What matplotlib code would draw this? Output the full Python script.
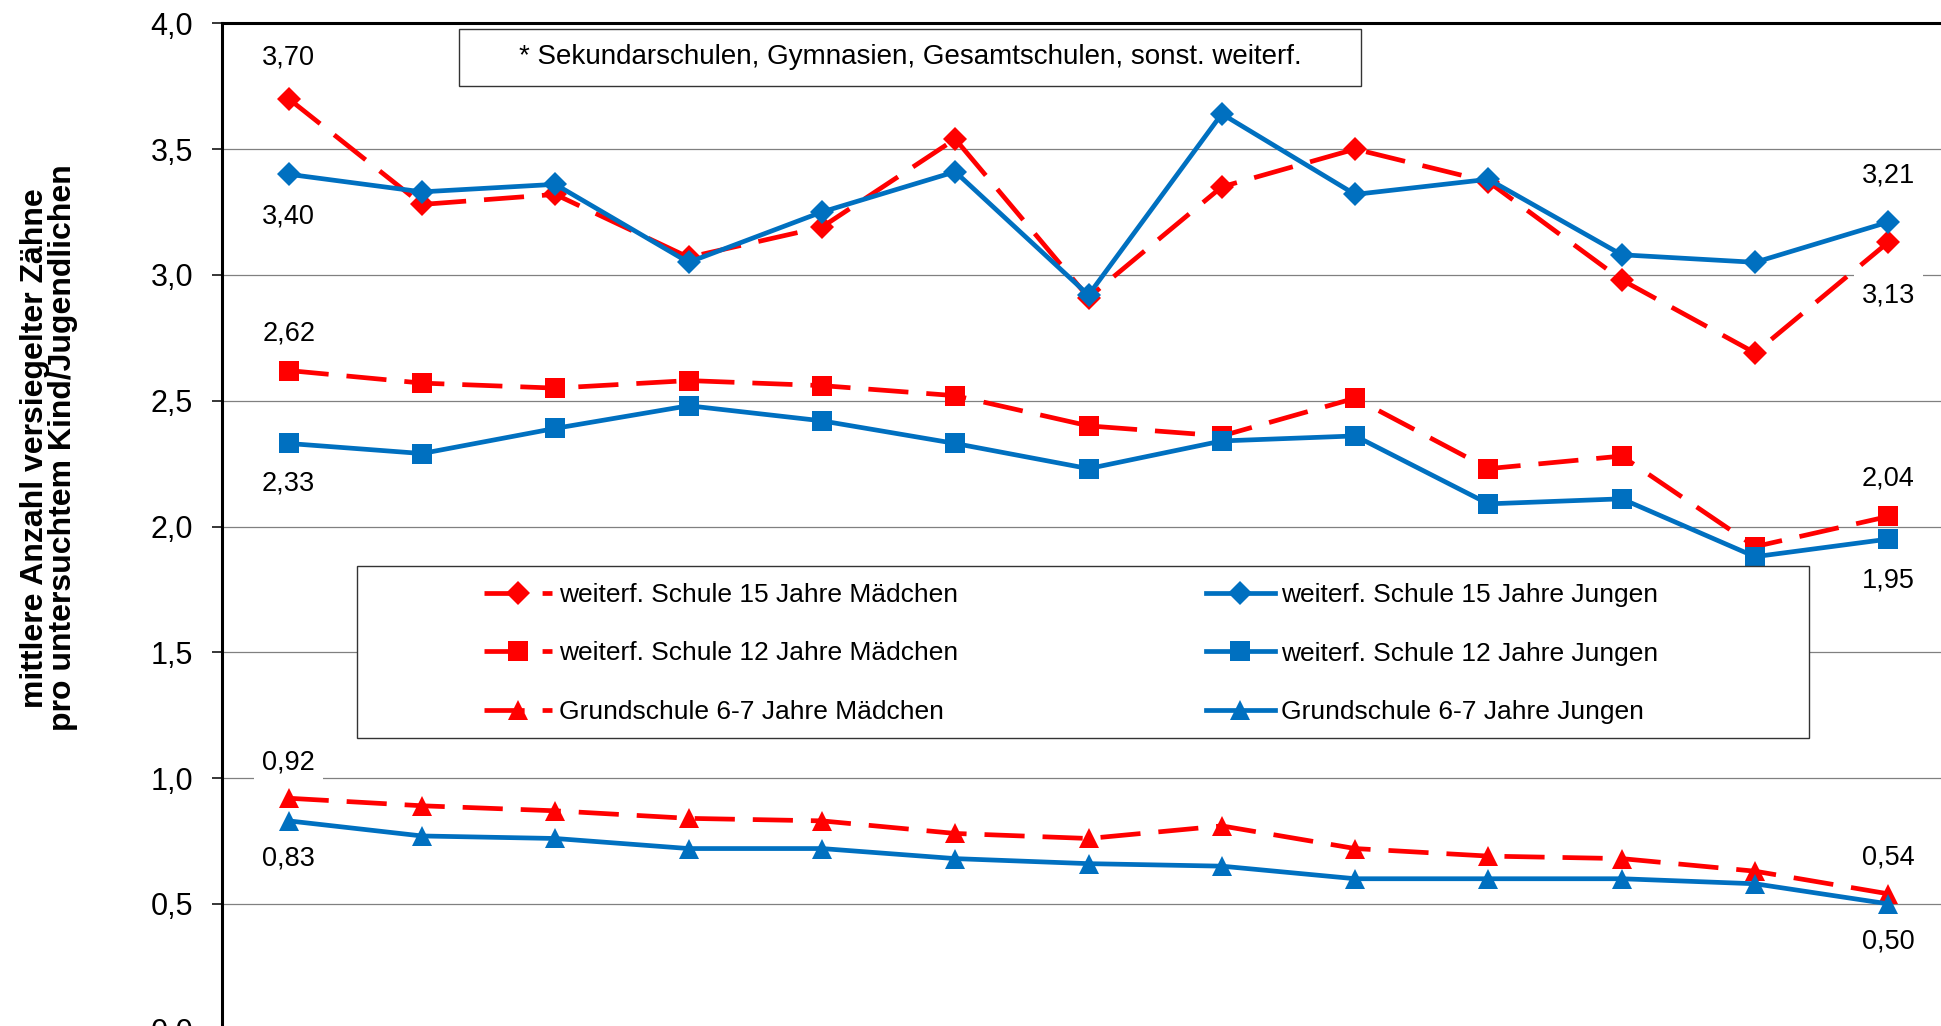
import numpy as np
import matplotlib.pyplot as plt
from matplotlib.patches import Rectangle

plt.rcParams["font.family"] = ["Liberation Sans", "DejaVu Sans"]

# 13 Untersuchungsjahre (Achsenbeschriftung im Ausschnitt nicht sichtbar)
jahre = np.arange(13)

m15 = [3.70, 3.28, 3.32, 3.07, 3.19, 3.54, 2.91, 3.35, 3.50, 3.37, 2.98, 2.69, 3.13]
j15 = [3.40, 3.33, 3.36, 3.05, 3.25, 3.41, 2.92, 3.64, 3.32, 3.38, 3.08, 3.05, 3.21]
m12 = [2.62, 2.57, 2.55, 2.58, 2.56, 2.52, 2.40, 2.36, 2.51, 2.23, 2.28, 1.92, 2.04]
j12 = [2.33, 2.29, 2.39, 2.48, 2.42, 2.33, 2.23, 2.34, 2.36, 2.09, 2.11, 1.88, 1.95]
m6 = [0.92, 0.89, 0.87, 0.84, 0.83, 0.78, 0.76, 0.81, 0.72, 0.69, 0.68, 0.63, 0.54]
j6 = [0.83, 0.77, 0.76, 0.72, 0.72, 0.68, 0.66, 0.65, 0.60, 0.60, 0.60, 0.58, 0.50]

labels = [
    "weiterf. Schule 15 Jahre Mädchen",
    "weiterf. Schule 12 Jahre Mädchen",
    "Grundschule 6-7 Jahre Mädchen",
    "weiterf. Schule 15 Jahre Jungen",
    "weiterf. Schule 12 Jahre Jungen",
    "Grundschule 6-7 Jahre Jungen",
]
fussnote = "* Sekundarschulen, Gymnasien, Gesamtschulen, sonst. weiterf."
ylabel = "mittlere Anzahl versiegelter Zähne\npro untersuchtem Kind/Jugendlichen"

RED = "#FF0000"
BLUE = "#0070C0"
W, H = 1941, 1026


def fx(x):
    return x / W


def fy(y):
    return 1 - y / H


fig = plt.figure(figsize=(W / 100, H / 100), dpi=100)
ax = fig.add_axes([fx(222), fy(1029.7), (1955 - 222) / W, (1029.7 - 23.3) / H])

lw = 3.4
dash = (8.5, 3.8)
handles = []
for vals, mk, ms in [(m15, "D", 12.5), (m12, "s", 14.5), (m6, "^", 14.5)]:
    h, = ax.plot(jahre, vals, color=RED, lw=lw, ls=(0, dash), marker=mk,
                 ms=ms, mew=0, zorder=3)
    handles.append(h)
for vals, mk, ms in [(j15, "D", 12.5), (j12, "s", 14.5), (j6, "^", 14.5)]:
    h, = ax.plot(jahre, vals, color=BLUE, lw=lw, marker=mk, ms=ms, mew=0,
                 zorder=4)
    handles.append(h)


def label(vals, i, dy):
    ax.annotate(f"{vals[i]:.2f}".replace(".", ","), (jahre[i], vals[i]),
                xytext=(0, dy), textcoords="offset pixels", ha="center",
                va="center", fontsize=19.5, zorder=6,
                bbox=dict(boxstyle="square,pad=0.3", fc="white", ec="none"))


label(m15, 0, 41)
label(m15, 12, -53)
label(j15, 0, -42)
label(j15, 12, 47)
label(j15, 7, 43)
label(m12, 0, 37)
label(m12, 12, 38)
label(j12, 0, -40)
label(j12, 12, -41)
label(m6, 0, 36)
label(m6, 12, 36)
label(j6, 0, -38)
label(j6, 12, -38)

ax.set_xlim(-0.5, 12.5)
ax.set_ylim(0, 4)
ax.set_yticks(np.arange(0, 4.01, 0.5))
ax.set_yticklabels([f"{v:.1f}".replace(".", ",") for v in np.arange(0, 4.01, 0.5)],
                   fontsize=22)
ax.tick_params(axis="y", length=7.2, width=1.1, pad=13.5)
ax.set_xticks([])
ax.grid(axis="y", color="#808080", lw=0.9, zorder=0)
ax.set_axisbelow(True)
for s in ["right", "bottom"]:
    ax.spines[s].set_visible(False)
for s in ["left", "top"]:
    ax.spines[s].set_linewidth(2.2)

fig.text(fx(49), fy(448), ylabel, rotation=90, ha="center", va="center",
         fontsize=23, fontweight="bold", multialignment="center",
         linespacing=0.9)

# Fussnote
fig.add_artist(Rectangle((fx(459), fy(86)), fx(1361) - fx(459), fy(29) - fy(86),
                         transform=fig.transFigure, fc="white", ec="#333333",
                         lw=1.0, zorder=7))
fig.text(fx(910), fy(57.5), fussnote, ha="center", va="center", fontsize=20,
         zorder=8)

# Legende
fig.add_artist(Rectangle((fx(357), fy(738)), fx(1809) - fx(357), fy(566) - fy(738),
                         transform=fig.transFigure, fc="white", ec="#333333",
                         lw=1.0, zorder=7))
leg = fig.legend(handles, labels, loc="center", bbox_to_anchor=(fx(1071), fy(653.5)),
                 ncol=2, frameon=False, fontsize=19, handlelength=2.6,
                 handletextpad=0.25, columnspacing=9.4, labelspacing=1.3)
leg.set_zorder(9)

fig.savefig("out.png", dpi=100)
